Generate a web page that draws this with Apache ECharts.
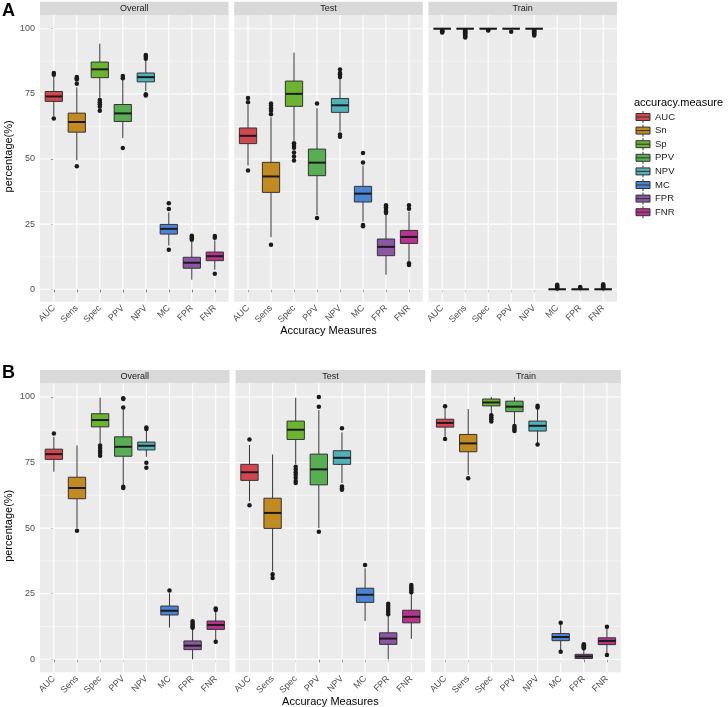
<!DOCTYPE html>
<html><head><meta charset="utf-8">
<script src="https://cdn.jsdelivr.net/npm/echarts@6/dist/echarts.min.js"></script>
<style>html,body{margin:0;padding:0;background:#fff}#c{width:728px;height:707px}</style>
</head><body><div id="c"></div><script>
// ---------- data ----------
const categories = ['AUC','Sens','Spec','PPV','NPV','MC','FPR','FNR'];
const legendNames = ['AUC','Sn','Sp','PPV','NPV','MC','FPR','FNR'];
const facets = ['Overall','Test','Train'];
const yTicks = [0,25,50,75,100];
const yMinor = [12.5,37.5,62.5,87.5];
const colors = ['#d2464f','#c28b22','#6cb42f','#58ae52','#50b2b8','#4a85d4','#8c56a4','#b7348e'];

// [min, q1, median, q3, max] per category
const boxA_Overall = [[66.5,72.1,74.0,75.9,81.5],[49.5,60.3,64.2,67.6,77.5],[73.5,81.2,84.4,87.2,94.3],[58.0,64.4,67.5,70.9,80.3],[76.0,79.6,81.4,83.0,87.8],[16.8,21.2,23.2,24.9,29.5],[3.7,8.1,10.2,12.3,18.3],[7.5,11.0,12.7,14.3,18.8]];
const outA_Overall = [[82.3,83.0,65.5],[78.9,80.5,81.0,81.5,47.2],[72.6,71.8,71.0,70.0,68.5],[81.0,81.8,54.2],[88.5,89.3,89.9,74.4,74.8],[30.8,33.0,15.2],[19.0,19.6,20.2,20.6],[19.8,20.5,6.0]];
const boxA_Test = [[47.5,55.9,58.9,61.9,70.8],[20.0,37.2,43.3,48.7,66.0],[57.0,70.2,75.0,79.9,90.8],[28.5,43.6,48.6,53.8,69.5],[60.5,67.9,70.6,73.2,81.0],[26.0,33.5,36.7,39.5,47.5],[5.6,12.9,16.3,19.3,28.5],[10.8,17.6,20.1,22.6,29.8]];
const outA_Test = [[71.8,73.4,45.6],[67.2,68.5,69.5,70.5,71.3,17.1],[56.0,55.2,54.3,52.5,51.0,49.4],[71.3,27.4],[81.5,82.5,83.0,84.3,59.4,58.5],[48.7,52.3,24.2,24.7],[29.3,30.0,30.8,31.5,32.3],[30.9,32.3,10.0,9.3]];
const boxA_Train = [[99.8,100,100,100,100],[99.8,100,100,100,100],[100,100,100,100,100],[100,100,100,100,100],[99.8,100,100,100,100],[0,0,0,0,0.1],[0,0,0,0,0],[0,0,0,0,0.1]];
const outA_Train = [[99.5,99.2,99.0,98.7,98.5],[99.4,99.0,98.6,98.2,97.8,97.4,97.0,96.6],[99.5,99.3],[98.8],[99.4,99.0,98.6,98.2,97.8,97.4],[0.3,0.6,1.0,1.4,1.8],[0.5,0.9],[0.4,0.8,1.2,1.6,1.9]];
const boxB_Overall = [[71.5,76.2,78.2,80.1,84.8],[50.0,61.2,65.3,69.4,81.5],[82.3,88.6,91.2,93.6,99.7],[66.5,77.4,81.0,84.8,95.5],[77.2,79.8,81.4,82.8,87.2],[12.1,16.9,18.5,20.3,25.2],[0.0,3.7,5.2,7.0,11.5],[7.4,11.4,13.1,14.6,18.2]];
const outB_Overall = [[86.1],[49.0],[81.5,80.5,79.5,78.6,77.6],[96.0,99.2,99.5,65.8,65.3],[87.8,88.4,74.9,73.0],[26.2],[12.0,12.6,13.2,13.8,14.5],[18.8,19.4,6.7]];
const boxB_Test = [[60.2,68.2,71.3,74.3,81.7],[33.5,49.9,55.8,61.4,78.1],[74.5,83.8,87.5,90.8,99.7],[50.0,66.5,72.4,78.2,95.0],[67.2,74.3,76.8,79.5,86.5],[14.6,21.7,24.6,27.1,34.7],[0.0,5.7,7.9,10.1,16.5],[7.8,13.9,16.2,18.7,25.0]];
const outB_Test = [[83.8,58.7],[32.4,31.0],[73.4,72.3,71.3,70.3,69.2,68.0,67.2],[96.3,100.0,48.6],[88.1,65.9,65.2,64.6],[35.9],[17.2,18.0,18.8,19.6,20.4,21.2],[25.6,26.3,27.0,27.7,28.3]];
const boxB_Train = [[84.8,88.5,90.1,91.5,95.7],[70.3,79.1,82.3,85.7,95.4],[93.5,96.6,97.9,99.2,100],[89.5,94.4,96.3,98.4,100],[82.5,87.0,89.0,90.8,95.5],[3.5,7.1,8.5,9.8,13.1],[0.0,0.3,1.1,1.9,3.8],[2.3,5.6,7.0,8.2,11.7]];
const outB_Train = [[96.5,84.0],[69.0],[93.0,92.3,91.5,90.6],[88.9,88.3,87.6,87.0],[96.0,96.6,81.9],[13.9,2.9],[4.2,4.6,5.0,5.4,5.7],[12.4,1.6]];

// ---------- layout ----------
const FONT = '"Liberation Sans", Arial, Helvetica, sans-serif';
const rows = [
  {label:'A', boxes:[boxA_Overall,boxA_Test,boxA_Train], outs:[outA_Overall,outA_Test,outA_Train],
   top:15, height:286.7, left0:40, stride:194.2, width:188.6, yMin:-4.75, yMax:105.25, stripH:13.3, labelY:2},
  {label:'B', boxes:[boxB_Overall,boxB_Test,boxB_Train], outs:[outB_Overall,outB_Test,outB_Train],
   top:383.3, height:289, left0:40, stride:195.6, width:189.6, yMin:-4.95, yMax:105.2, stripH:13.3, labelY:364}
];

function renderGridLines(params, api) {
  const cs = params.coordSys;
  const o = api.value(0), v = api.value(1), major = api.value(2);
  const lw = major ? 1.1 : 0.5;
  if (o === 0) {
    const y = api.coord([0, v])[1];
    return {type:'line', shape:{x1:cs.x, y1:y, x2:cs.x+cs.width, y2:y}, style:{stroke:'#ffffff', lineWidth:lw}, silent:true};
  } else {
    const x = api.coord([v, 0])[0];
    return {type:'line', shape:{x1:x, y1:cs.y, x2:x, y2:cs.y+cs.height}, style:{stroke:'#ffffff', lineWidth:lw}, silent:true};
  }
}
function renderBox(params, api) {
  const x = api.value(0);
  const mn = api.value(1), q1 = api.value(2), md = api.value(3), q3 = api.value(4), mx = api.value(5);
  const half = 0.375;
  const cx = api.coord([x, md])[0];
  const l = api.coord([x - half, md])[0], r = api.coord([x + half, md])[0];
  const yMn = api.coord([x, mn])[1], yQ1 = api.coord([x, q1])[1], yMd = api.coord([x, md])[1];
  const yQ3 = api.coord([x, q3])[1], yMx = api.coord([x, mx])[1];
  const fill = api.visual('color');
  return {type:'group', children:[
    {type:'line', shape:{x1:cx, y1:yMx, x2:cx, y2:yQ3}, style:{stroke:'#333333', lineWidth:1}},
    {type:'line', shape:{x1:cx, y1:yQ1, x2:cx, y2:yMn}, style:{stroke:'#333333', lineWidth:1}},
    {type:'rect', shape:{x:l, y:yQ3, width:r-l, height:yQ1-yQ3}, style:{fill:fill, stroke:'#333333', lineWidth:1}},
    {type:'line', shape:{x1:l, y1:yMd, x2:r, y2:yMd}, style:{stroke:'#1a1a1a', lineWidth:2}}
  ]};
}

const grids = [], xAxes = [], yAxes = [], series = [], graphics = [];
const gridData = [];
yTicks.forEach(v => gridData.push([0, v, 1]));
yMinor.forEach(v => gridData.push([0, v, 0]));
categories.forEach((c, i) => gridData.push([1, i, 1]));

let k = 0;
rows.forEach((row, ri) => {
  for (let p = 0; p < 3; p++) {
    const left = row.left0 + p * row.stride;
    grids.push({left:left, top:row.top, width:row.width, height:row.height, show:true,
      backgroundColor:'#ebebeb', borderWidth:0, containLabel:false, outerBoundsMode:'none'});
    xAxes.push({type:'value', gridIndex:k, min:-0.6, max:7.6,
      axisLine:{show:false}, splitLine:{show:false},
      axisTick:{show:true, customValues:[0,1,2,3,4,5,6,7], length:3, lineStyle:{color:'#333333', width:1}},
      axisLabel:{show:true, customValues:[0,1,2,3,4,5,6,7], rotate:45, margin:5, fontSize:9, color:'#4d4d4d', fontFamily:FONT,
        formatter: v => categories[Math.round(v)]}});
    yAxes.push({type:'value', gridIndex:k, min:row.yMin, max:row.yMax,
      axisLine:{show:false}, splitLine:{show:false},
      axisTick:{show:p===0, customValues:yTicks, length:3, lineStyle:{color:'#333333', width:1}},
      axisLabel:{show:p===0, customValues:yTicks, margin:5, fontSize:9, color:'#4d4d4d', fontFamily:FONT}});
    series.push({type:'custom', xAxisIndex:k, yAxisIndex:k, silent:true, z:1, renderItem:renderGridLines,
      data:gridData, encode:{x:-1, y:-1}});
    row.boxes[p].forEach((b, ci) => {
      series.push({type:'custom', name:legendNames[ci], xAxisIndex:k, yAxisIndex:k, z:3,
        itemStyle:{color:colors[ci]}, renderItem:renderBox,
        encode:{x:0, y:[1,2,3,4,5]}, data:[[ci].concat(b)]});
    });
    const pts = [];
    row.outs[p].forEach((arr, ci) => arr.forEach(v => pts.push([ci, v])));
    series.push({type:'scatter', xAxisIndex:k, yAxisIndex:k, z:4, silent:true, symbolSize:4.5,
      itemStyle:{color:'#1a1a1a', opacity:1}, data:pts});
    // strip
    graphics.push({type:'rect', shape:{x:left, y:row.top-row.stripH, width:row.width, height:row.stripH}, style:{fill:'#d9d9d9'}, silent:true});
    graphics.push({type:'text', x:left+row.width/2, y:row.top-row.stripH/2, style:{text:facets[p], fontSize:9, fill:'#1a1a1a', fontFamily:FONT, align:'center', verticalAlign:'middle'}, silent:true});
    k++;
  }
  // panel letter
  graphics.push({type:'text', x:2, y:row.labelY, style:{text:row.label, fontSize:18, fontWeight:'bold', fill:'#000', fontFamily:FONT, align:'left', verticalAlign:'top'}});
  // axis titles
  const midX = row.left0 + (2*row.stride + row.width)/2;
  graphics.push({type:'text', x:midX, y:row.top+row.height+29.5, style:{text:'Accuracy Measures', fontSize:11, fill:'#000', fontFamily:FONT, align:'center', verticalAlign:'middle'}});
  graphics.push({type:'text', x:8.5, y:row.top+row.height/2 - 2, rotation:Math.PI/2, style:{text:'percentage(%)', fontSize:11, fill:'#000', fontFamily:FONT, align:'center', verticalAlign:'middle'}});
});

// legend title
graphics.push({type:'text', x:634, y:103, style:{text:'accuracy.measure', fontSize:11, fill:'#000', fontFamily:FONT, align:'left', verticalAlign:'middle'}});

const iconPath = 'path://M7,0L7,2.5M0,2.5L14,2.5L14,9.5L0,9.5ZM0,6L14,6M7,9.5L7,12';

const chart = echarts.init(document.getElementById('c'), null, {renderer:'canvas'});
chart.setOption({
  animation:false,
  backgroundColor:'#ffffff',
  textStyle:{fontFamily:FONT},
  grid:grids, xAxis:xAxes, yAxis:yAxes, series:series,
  legend:{show:true, orient:'vertical', left:635.5, top:110.5, itemWidth:14, itemHeight:12, itemGap:0.6, selectedMode:false,
    data:legendNames.map(n => ({name:n, icon:iconPath})),
    itemStyle:{borderColor:'#333333', borderWidth:1},
    textStyle:{fontSize:9.5, color:'#1a1a1a', fontFamily:FONT, lineHeight:11}, padding:0},
  graphic:{elements:graphics}
});
</script></body></html>
